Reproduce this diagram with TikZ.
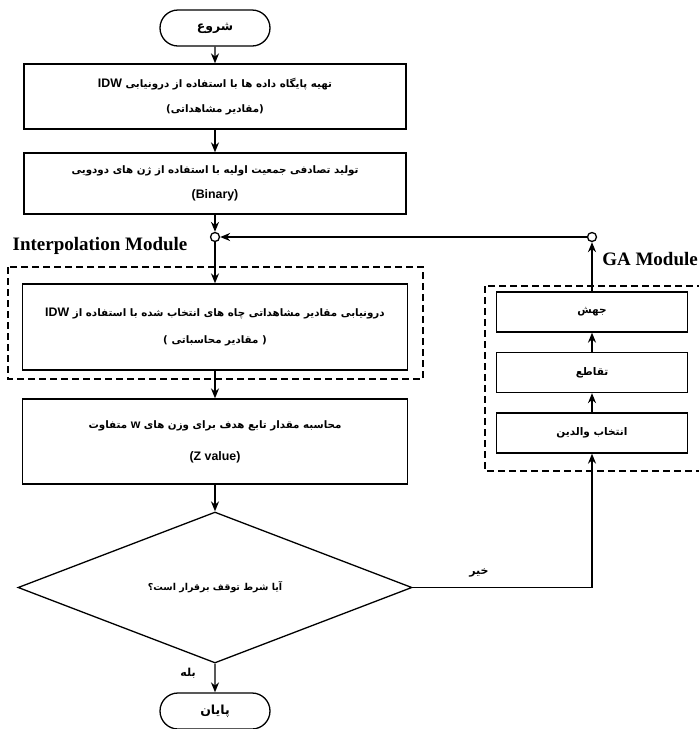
\documentclass[tikz,border=0pt]{standalone}
\usepackage{fontspec}
\usetikzlibrary{shapes.geometric,shapes.misc,arrows.meta}
\TeXXeTstate=1
\newfontfamily\farsi[Script=Arabic]{DejaVu Sans}
\newfontfamily\latsans[Scale=1.2]{Liberation Sans}
\newfontfamily\latserif{Liberation Serif}
\newcommand{\rl}[1]{\beginR #1\endR}
\newcommand{\lt}[1]{\beginL{\latsans\bfseries #1}\endL}
\tikzset{
  stepbox/.style={draw, line width=1.3pt, align=center, inner sep=0pt,
    font=\farsi\bfseries\fontsize{10.3}{25}\selectfont},
  termbox/.style={draw, rounded rectangle, line width=1.3pt, inner sep=0pt,
    minimum width=110pt, minimum height=36pt, font=\farsi\bfseries\fontsize{12.5}{15}\selectfont},
  gabox/.style={draw, line width=1.3pt, inner sep=0pt, minimum width=191pt,
    minimum height=40pt, font=\farsi\bfseries\fontsize{10.5}{15}\selectfont},
  joint/.style={draw, circle, line width=1.3pt, inner sep=0pt, minimum size=9pt, fill=white},
  modbox/.style={draw, dash pattern=on 7pt off 4pt, line width=1.8pt},
  modlabel/.style={font=\latserif\bfseries\fontsize{19}{19}\selectfont, inner sep=0pt},
  flow/.style={line width=1.3pt, -{Stealth[length=10pt,width=8pt]}},
  answer/.style={font=\farsi\bfseries\fontsize{11}{15}\selectfont, inner sep=0pt}
}
\begin{document}
\begin{tikzpicture}[x=1pt, y=-1pt]
\useasboundingbox (0,0) rectangle (699,729);
\draw[modbox] (8,267) rectangle (423,379);
\draw[modbox] (485,286) rectangle (712,471);
\node[modlabel] (interp) at (100,246) {Interpolation Module};
\node[modlabel, anchor=east] (galab) at (698,259) {GA Module};
\node[termbox] (start) at (215,28) {\rl{شروع}};
\node[stepbox, minimum width=382pt, minimum height=65pt] (prep) at (215,96.5)
  {\rl{تهیه پایگاه داده ها با استفاده از درونیابی \lt{IDW}}\\ \rl{(مقادیر مشاهداتی)}};
\node[stepbox, minimum width=382pt, minimum height=61pt] (init) at (215,183.5)
  {\rl{تولید تصادفی جمعیت اولیه با استفاده از ژن های دودویی}\\ \lt{(Binary)}};
\node[joint] (j1) at (215,237) {};
\node[stepbox, minimum width=385pt, minimum height=86pt] (idw) at (215,327)
  {\rl{درونیابی مقادیر مشاهداتی چاه های انتخاب شده با استفاده از \lt{IDW}}\\[2pt] \rl{( مقادیر محاسباتی )}};
\node[stepbox, minimum width=385pt, minimum height=85pt] (zval) at (215,441.5)
  {\rl{محاسبه مقدار تابع هدف برای وزن های \lt{w} متفاوت}\\[7pt] \lt{(Z value)}};
\node[diamond, draw, aspect=2.6, line width=1.3pt, inner sep=0pt, minimum width=394pt, minimum height=151pt,
  font=\farsi\bfseries\fontsize{9.5}{14}\selectfont] (cond) at (215,587.5) {\rl{آیا شرط توقف برقرار است؟}};
\node[termbox] (stop) at (215,711) {\rl{پایان}};
\node[gabox] (mut) at (592,312) {\rl{جهش}};
\node[gabox] (cross) at (592,372.5) {\rl{تقاطع}};
\node[gabox] (sel) at (592,433) {\rl{انتخاب والدین}};
\node[joint] (j2) at (592,237) {};
\node[answer] (no) at (479,573) {\rl{خیر}};
\node[answer] (yes) at (188,673) {\rl{بله}};
\draw[flow] (start) -- (prep);
\draw[flow] (prep) -- (init);
\draw[flow] (init) -- (j1);
\draw[flow] (j1) -- (idw);
\draw[flow] (idw) -- (zval);
\draw[flow] (zval) -- (cond);
\draw[flow] (cond) -- (stop);
\draw[flow] (cond.east) -| (sel.south);
\draw[flow] (sel) -- (cross);
\draw[flow] (cross) -- (mut);
\draw[flow] (mut) -- (j2);
\draw[flow] (j2) -- (j1);
\end{tikzpicture}
\end{document}
